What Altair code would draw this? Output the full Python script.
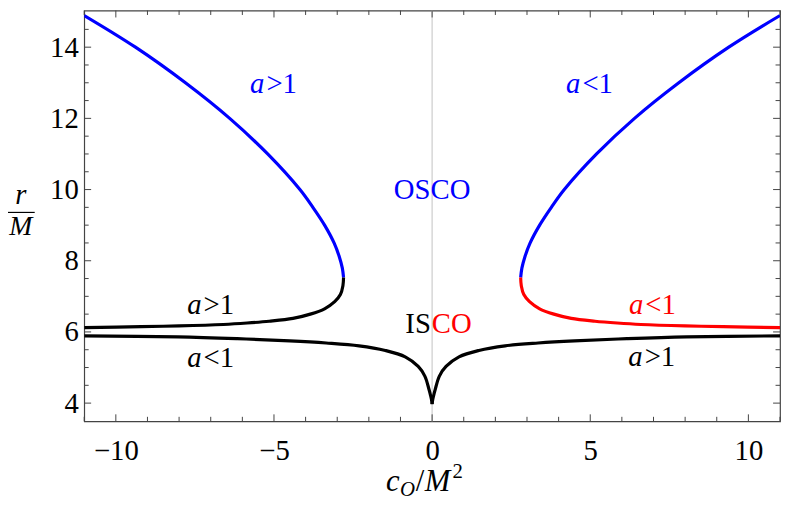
import altair as alt
import pandas as pd

# ---- data (c_O/M^2 >= 0 half; figure is mirror-symmetric) ----
# upper (OSCO) branch: r from top of plot down to the turning point
upper_r = [14.89, 14.0, 13.0, 12.0, 11.0, 10.0, 9.5, 9.0, 8.5, 8.1, 7.8, 7.53]
upper_c = [11.0, 9.38, 7.8, 6.4, 5.2, 4.18, 3.77, 3.40, 3.10, 2.93, 2.84, 2.80]
# middle branch: from turning point towards r -> 6
mid_r = [7.53, 7.30, 7.05, 6.85, 6.65, 6.50, 6.38, 6.30, 6.25, 6.21, 6.17, 6.15, 6.12]
mid_c = [2.80, 2.82, 2.90, 3.08, 3.40, 3.85, 4.40, 5.15, 5.85, 6.6, 8.0, 9.2, 11.0]
# lower (ISCO) branch with the cusp at c = 0
low_c = [0.0, 0.02, 0.05, 0.10, 0.23, 0.44, 0.85, 1.48, 2.31, 3.35, 4.5, 6.16, 8.04, 11.0]
low_r = [3.97, 4.10, 4.22, 4.39, 4.76, 5.03, 5.30, 5.48, 5.61, 5.69, 5.75, 5.81, 5.86, 5.89]

x_labels = [-10, -5, 0, 5, 10]
y_labels = [4, 6, 8, 10, 12, 14]
x_minor = [-11, -9, -8, -7, -6, -4, -3, -2, -1, 1, 2, 3, 4, 6, 7, 8, 9, 11]
y_minor = [4.5, 5, 5.5, 6.5, 7, 7.5, 8.5, 9, 9.5, 10.5, 11, 11.5, 12.5, 13, 13.5, 14.5]

seg_names = ["blue_left", "black_left", "blue_right", "red_right", "low_left", "low_right"]
seg_colors = ["#0000ff", "#000000", "#0000ff", "#ff0000", "#000000", "#000000"]

# annotation texts
a_c = [-5.27, 4.72, -7.26, -7.26, 6.71, 6.69]
a_r = [12.71, 12.71, 6.51, 5.01, 6.51, 5.03]
a_rest = [">1", "<1", ">1", "<1", "<1", ">1"]
a_col = ["#0000ff", "#0000ff", "#000000", "#000000", "#ff0000", "#000000"]

# ---- build tables ----
rows = []
def add(seg, cs, rs):
    for i, (c, r) in enumerate(zip(cs, rs)):
        rows.append({"seg": seg, "i": i, "c": c, "r": r})

add("blue_left", [-c for c in upper_c], upper_r)
add("black_left", [-c for c in mid_c], mid_r)
add("blue_right", upper_c, upper_r)
add("red_right", mid_c, mid_r)
add("low_left", [-c for c in low_c], low_r)
add("low_right", low_c, low_r)
df = pd.DataFrame(rows)

W, H = 703, 415
FONT = "Liberation Serif"
xs = alt.Scale(domain=[-11, 11], nice=False, zero=False)
ys = alt.Scale(domain=[3.49, 15.03], nice=False, zero=False)

def X(field="c:Q"):
    return alt.X(field, scale=xs, axis=alt.Axis(values=x_labels, ticks=False, tickSize=0, domain=False,
                 grid=False, labelFont=FONT, labelFontSize=29, labelColor="#000000",
                 labelPadding=16, format="d", title=None))

def Y(field="r:Q"):
    return alt.Y(field, scale=ys, axis=alt.Axis(values=y_labels, ticks=False, tickSize=0, domain=False,
                 grid=False, labelFont=FONT, labelFontSize=29, labelColor="#000000",
                 labelPadding=6, format="d", title=None))

zero_line = alt.Chart(pd.DataFrame({"c": [0.0]})).mark_rule(color="#cccccc", strokeWidth=1.2).encode(
    x=X(), y=alt.value(0), y2=alt.value(H))

lines = alt.Chart(df).mark_line(strokeWidth=3.2, clip=True, strokeCap="butt", interpolate="catmull-rom").encode(
    x=X(), y=Y(),
    color=alt.Color("seg:N", scale=alt.Scale(domain=seg_names, range=seg_colors), legend=None),
    detail="seg:N",
    order="i:Q")

# frame ticks (inward)
xt_major = pd.DataFrame({"c": [float(v) for v in x_labels]})
xt_minor = pd.DataFrame({"c": [float(v) for v in x_minor]})
yt_major = pd.DataFrame({"r": [float(v) for v in y_labels]})
yt_minor = pd.DataFrame({"r": [float(v) for v in y_minor]})
tick_color = "#444444"

def xticks(d, L):
    b = alt.Chart(d).mark_rule(color=tick_color, strokeWidth=1).encode(x=X(), y=alt.value(H), y2=alt.value(H - L))
    t = alt.Chart(d).mark_rule(color=tick_color, strokeWidth=1).encode(x=X(), y=alt.value(0), y2=alt.value(L))
    return [b, t]

def yticks(d, L):
    l = alt.Chart(d).mark_rule(color=tick_color, strokeWidth=1).encode(y=Y(), x=alt.value(0), x2=alt.value(L))
    r = alt.Chart(d).mark_rule(color=tick_color, strokeWidth=1).encode(y=Y(), x=alt.value(W), x2=alt.value(W - L))
    return [l, r]

ticks = xticks(xt_major, 7) + xticks(xt_minor, 4.5) + yticks(yt_major, 7) + yticks(yt_minor, 4.5)

# annotations
ann_a = pd.DataFrame({"c": a_c, "r": a_r, "t": ["a"] * len(a_c), "col": a_col})
ann_rest = pd.DataFrame({"c": a_c + [-0.04], "r": a_r + [5.97], "t": a_rest + ["CO"],
                         "col": a_col + ["#ff0000"]})
t_a = alt.Chart(ann_a).mark_text(font=FONT, fontSize=29, fontStyle="italic", align="right",
                                 baseline="alphabetic", dx=-1).encode(
    x=X(), y=Y(), text="t:N", color=alt.Color("col:N", scale=None))
t_rest = alt.Chart(ann_rest).mark_text(font=FONT, fontSize=29, align="left", baseline="alphabetic", dx=1).encode(
    x=X(), y=Y(), text="t:N", color=alt.Color("col:N", scale=None))
t_is = alt.Chart(pd.DataFrame({"c": [-0.04], "r": [5.97], "t": ["IS"]})).mark_text(
    font=FONT, fontSize=29, align="right", baseline="alphabetic", color="#000000").encode(
    x=X(), y=Y(), text="t:N")
t_osco = alt.Chart(pd.DataFrame({"c": [0.0], "r": [9.73], "t": ["OSCO"]})).mark_text(
    font=FONT, fontSize=29, align="center", baseline="alphabetic", color="#0000ff").encode(
    x=X(), y=Y(), text="t:N")

# axis titles composed from pieces
one = pd.DataFrame({"k": [0]})
def ptext(txt, x, y, size=30, style="italic", align="left"):
    return alt.Chart(one).mark_text(text=txt, font=FONT, fontSize=size, fontStyle=style, align=align,
                                    baseline="alphabetic", color="#000000").encode(
        x=alt.value(x), y=alt.value(y))

titles = [
    ptext("r", -64, 195, size=29, align="center"),
    alt.Chart(one).mark_rule(color="#000000", strokeWidth=1.2).encode(
        x=alt.value(-78), x2=alt.value(-50), y=alt.value(204)),
    ptext("M", -64, 227, size=28, align="center"),
    ptext("c", 305, 485, size=31),
    ptext("O", 319, 491, size=21),
    ptext("/", 335, 485, size=31, style="normal"),
    ptext("M", 344, 485, size=31),
    ptext("2", 372, 472, size=21, style="normal"),
]

chart = alt.layer(zero_line, lines, *ticks, t_a, t_rest, t_is, t_osco, *titles).properties(
    width=W, height=H,
    autosize=alt.AutoSizeParams(type="none"),
    padding={"left": 77, "top": 0, "right": 1, "bottom": 78},
).configure_view(stroke="#444444", strokeWidth=1.2).configure_axis(
    labelFont=FONT, labelFontSize=29, labelColor="#000000")

chart.save("out.html", embed_options={"renderer": "svg", "actions": False})
